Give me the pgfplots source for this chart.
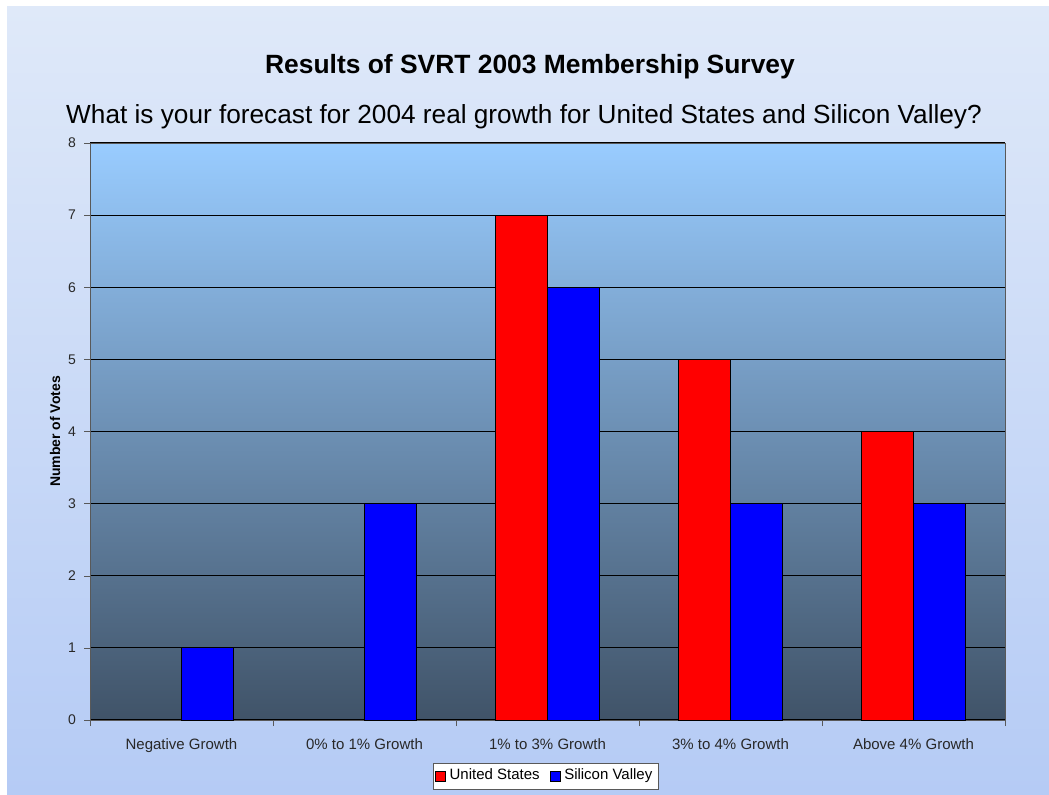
\documentclass[border=0pt]{standalone}
\usepackage{fontspec}
\setmainfont{Liberation Sans}
\usepackage{pgfplots}
\pgfplotsset{compat=1.18}
\definecolor{pagetop}{RGB}{223,233,249}
\definecolor{pagebot}{RGB}{181,203,245}
\definecolor{plottop}{RGB}{153,204,255}
\definecolor{plotbot}{RGB}{64,83,104}
\definecolor{usred}{RGB}{255,0,0}
\definecolor{svblue}{RGB}{0,0,255}
\definecolor{txt}{RGB}{40,40,40}
\begin{document}
\begin{tikzpicture}
\useasboundingbox (0,0) rectangle (524.5pt,397pt);
\fill[white] (0,0) rectangle (524.5pt,397pt);
\shade[top color=pagetop, bottom color=pagebot] (3.5pt,0) rectangle (524.5pt,393.5pt);
\node[font=\fontsize{13.2}{15}\selectfont\bfseries] at (265pt,363.5pt) {Results of SVRT 2003 Membership Survey};
\node[font=\fontsize{13.1}{15}\selectfont] at (262pt,338.5pt) {What is your forecast for 2004 real growth for United States and Silicon Valley?};
\begin{axis}[
  at={(45pt,37pt)}, anchor=south west,
  scale only axis, width=457.5pt, height=288.5pt,
  axis background/.style={shade, top color=plottop, bottom color=plotbot},
  ybar=0pt, bar width=26pt,
  xmin=-0.5, xmax=4.5, ymin=0, ymax=8,
  xtick={0,1,2,3,4},
  xticklabels={Negative Growth,0\% to 1\% Growth,1\% to 3\% Growth,3\% to 4\% Growth,Above 4\% Growth},
  minor xtick={-0.5,0.5,1.5,2.5,3.5,4.5},
  ytick={0,1,...,8},
  ymajorgrids, major grid style={black, line width=0.6pt},
  tick pos=left, tick align=outside,
  xtick style={draw=none},
  minor tick length=3pt, major tick length=3pt,
  minor x tick style={draw=gray!70!black},
  ytick style={draw=gray!70!black},
  axis line style={gray!70!black},
  /pgf/number format/assume math mode=true,
  ticklabel style={font=\fontsize{7}{8}\selectfont, text=txt},
  xticklabel style={yshift=-3pt, font=\fontsize{7.5}{8}\selectfont},
  yticklabel style={xshift=-0.5pt},
  ylabel={Number of Votes},
  ylabel style={font=\fontsize{7}{8}\selectfont\bfseries, at={(axis description cs:-0.038,0.5)}, anchor=center},
  legend columns=2,
  legend style={at={(0.498,-0.097)}, anchor=center, font=\fontsize{7.5}{8}\selectfont, draw=gray!70!black, fill=white, inner xsep=1pt, inner ysep=1pt, /tikz/every even column/.append style={column sep=3pt}},
  legend image code/.code={\fill[#1, draw=black, line width=0.3pt] (0pt,-2.5pt) rectangle (5pt,2.5pt);},
]
\addplot[fill=usred, draw=black, line width=0.4pt] coordinates {(2,7) (3,5) (4,4)};
\addplot[fill=svblue, draw=black, line width=0.4pt] coordinates {(0,1) (1,3) (2,6) (3,3) (4,3)};
\legend{United States,Silicon Valley}
\end{axis}
\end{tikzpicture}
\end{document}
